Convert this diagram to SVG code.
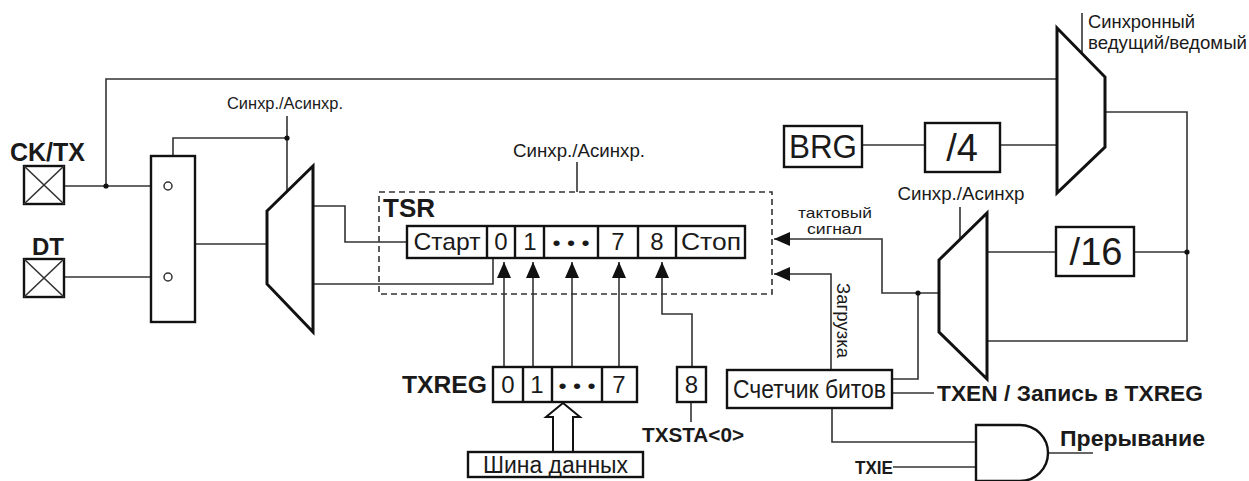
<svg xmlns="http://www.w3.org/2000/svg" width="1249" height="481" viewBox="0 0 1249 481">
<style>
.w{fill:none;stroke:#333;stroke-width:1.6}
.b{fill:#fff;stroke:#111;stroke-width:2.4}
.m{fill:#fff;stroke:#111;stroke-width:3}
.d{fill:#111}
.t{font-family:"Liberation Sans",Arial,sans-serif;fill:#1a1a1a}
.bo{font-weight:bold}
.dash{fill:none;stroke:#333;stroke-width:1.6;stroke-dasharray:6 4}
</style>
<defs>
<marker id="ah" viewBox="0 0 16 14" refX="16" refY="7" markerWidth="16" markerHeight="14" markerUnits="userSpaceOnUse" orient="auto">
<path d="M0,0 L16,7 L0,14 Z" fill="#111"/>
</marker>
</defs>
<rect width="1249" height="481" fill="#fff"/>

<g id="connectors">
<polyline class="w" points="64,186 164,186"/>
<polyline class="w" points="64,277 164,277"/>
<polyline class="w" points="106,186 106,79 1057,79"/>
<polyline class="w" points="158,222 180,244 267,244"/>
<polyline class="w" points="173,156 173,138 287,138"/>
<polyline class="w" points="287,116 287,191"/>
<polyline class="w" points="313,206 345,206 345,242 407,242"/>
<polyline class="w" points="313,284 493,284 493,258"/>
<polyline class="w" points="577,162 577,192"/>
<polyline class="w" points="504,367 504,262" marker-end="url(#ah)"/>
<polyline class="w" points="533,367 533,262" marker-end="url(#ah)"/>
<polyline class="w" points="572,367 572,262" marker-end="url(#ah)"/>
<polyline class="w" points="619,367 619,262" marker-end="url(#ah)"/>
<polyline class="w" points="692,367 692,314 662,314 662,262" marker-end="url(#ah)"/>
<polyline class="w" points="691,402 691,422"/>
<polyline class="w" points="862,145 925,145"/>
<polyline class="w" points="1000,145 1057,145"/>
<polyline class="w" points="1082,13 1082,53"/>
<polyline class="w" points="1105,112 1187,112 1187,341 987,341"/>
<polyline class="w" points="1187,252 1134,252"/>
<polyline class="w" points="1056,252 987,252"/>
<polyline class="w" points="960,207 960,239"/>
<polyline class="w" points="939,293 882,293 882,239 774,239" marker-end="url(#ah)"/>
<polyline class="w" points="918,293 918,379 892,379"/>
<polyline class="w" points="831,370 831,274 774,274" marker-end="url(#ah)"/>
<polyline class="w" points="892,393 934,393"/>
<polyline class="w" points="832,408 832,442 976,442"/>
<polyline class="w" points="893,467 976,467"/>
<polyline class="w" points="1048,453 1093,453"/>
<circle class="d" cx="106" cy="186" r="2.6"/>
<circle class="d" cx="287" cy="138" r="2.6"/>
<circle class="d" cx="918" cy="293" r="2.6"/>
<circle class="d" cx="1187" cy="252" r="2.6"/>
</g>

<g id="ck-tx">
<text class="t bo" x="10" y="161" font-size="25">CK/TX</text>
<rect class="b" x="24" y="166" width="40" height="38"/>
<path class="w" d="M24,166 L64,204 M64,166 L24,204" stroke-width="1.2"/>
</g>
<g id="dt">
<text class="t bo" x="32" y="255" font-size="24">DT</text>
<rect class="b" x="24" y="259" width="40" height="38"/>
<path class="w" d="M24,259 L64,297 M64,259 L24,297" stroke-width="1.2"/>
</g>

<g id="switch">
<rect class="b" x="151" y="156" width="44" height="166"/>
<circle cx="168" cy="186" r="4" fill="#fff" stroke="#333" stroke-width="1.5"/>
<circle cx="168" cy="277" r="4" fill="#fff" stroke="#333" stroke-width="1.5"/>
</g>

<g id="mux-left">
<polygon class="m" points="267,211 313,166 313,332 267,284"/>
<text class="t" x="285" y="109" font-size="17" text-anchor="middle" textLength="116" lengthAdjust="spacingAndGlyphs">Синхр./Асинхр.</text>
</g>

<g id="tsr">
<rect class="dash" x="379" y="192" width="393" height="102"/>
<text class="t" x="579" y="157" font-size="19" text-anchor="middle" textLength="132" lengthAdjust="spacingAndGlyphs">Синхр./Асинхр.</text>
<text class="t bo" x="383" y="217" font-size="26">TSR</text>
<rect class="b" x="407" y="226" width="338" height="32"/>
<path class="b" d="M487,226 V258 M515,226 V258 M544,226 V258 M598,226 V258 M638,226 V258 M676,226 V258"/>
<text class="t" x="447" y="250" font-size="24" text-anchor="middle" textLength="67" lengthAdjust="spacingAndGlyphs">Старт</text>
<text class="t" x="501" y="250" font-size="24" text-anchor="middle">0</text>
<text class="t" x="530" y="250" font-size="24" text-anchor="middle">1</text>
<text class="t" x="571" y="250" font-size="20" text-anchor="middle" textLength="37" lengthAdjust="spacingAndGlyphs">• • •</text>
<text class="t" x="618" y="250" font-size="24" text-anchor="middle">7</text>
<text class="t" x="657" y="250" font-size="24" text-anchor="middle">8</text>
<text class="t" x="711" y="250" font-size="24" text-anchor="middle" textLength="60" lengthAdjust="spacingAndGlyphs">Стоп</text>
</g>

<g id="txreg">
<text class="t bo" x="487" y="393" font-size="24" text-anchor="end" textLength="85" lengthAdjust="spacingAndGlyphs">TXREG</text>
<rect class="b" x="493" y="367" width="144" height="35"/>
<path class="b" d="M523,367 V402 M552,367 V402 M602,367 V402"/>
<text class="t" x="508" y="393" font-size="24" text-anchor="middle">0</text>
<text class="t" x="537" y="393" font-size="24" text-anchor="middle">1</text>
<text class="t" x="577" y="393" font-size="20" text-anchor="middle" textLength="37" lengthAdjust="spacingAndGlyphs">• • •</text>
<text class="t" x="619" y="393" font-size="24" text-anchor="middle">7</text>
</g>

<g id="bit8">
<rect class="b" x="677" y="367" width="29" height="35"/>
<text class="t" x="691.5" y="393" font-size="24" text-anchor="middle">8</text>
<text class="t bo" x="642" y="442" font-size="20" textLength="102" lengthAdjust="spacingAndGlyphs">TXSTA&lt;0&gt;</text>
</g>

<g id="databus">
<polygon points="563,403 580,417 573,417 573,452 553,452 553,417 546,417" fill="#fff" stroke="#111" stroke-width="2"/>
<rect class="b" x="468" y="452" width="175" height="25"/>
<text class="t" x="555.5" y="473" font-size="23" text-anchor="middle" textLength="145" lengthAdjust="spacingAndGlyphs">Шина данных</text>
</g>

<g id="brg">
<rect class="b" x="784" y="126" width="78" height="41"/>
<text class="t" x="823" y="158" font-size="34" text-anchor="middle" textLength="68" lengthAdjust="spacingAndGlyphs">BRG</text>
</g>
<g id="div4">
<rect class="b" x="925" y="123" width="75" height="49"/>
<text class="t" x="962" y="161" font-size="38" text-anchor="middle">/4</text>
</g>

<g id="mux-top">
<polygon class="m" points="1057,28 1105,77 1105,147 1057,193"/>
<text class="t" x="1088" y="28" font-size="19" textLength="107" lengthAdjust="spacingAndGlyphs">Синхронный</text>
<text class="t" x="1088" y="49" font-size="19" textLength="159" lengthAdjust="spacingAndGlyphs">ведущий/ведомый</text>
</g>

<g id="div16">
<rect class="b" x="1056" y="227" width="78" height="49"/>
<text class="t" x="1096" y="265" font-size="38" text-anchor="middle">/16</text>
</g>

<g id="mux-low">
<polygon class="m" points="939,260 987,213 987,379 939,332"/>
<text class="t" x="961" y="200" font-size="19" text-anchor="middle" textLength="127" lengthAdjust="spacingAndGlyphs">Синхр./Асинхр</text>
</g>

<g id="clock-label">
<text class="t" x="835" y="218" font-size="15" text-anchor="middle" textLength="74" lengthAdjust="spacingAndGlyphs">тактовый</text>
<text class="t" x="834.5" y="234" font-size="15" text-anchor="middle" textLength="55" lengthAdjust="spacingAndGlyphs">сигнал</text>
<text class="t" transform="translate(837,283) rotate(90)" font-size="18" textLength="75" lengthAdjust="spacingAndGlyphs">Загрузка</text>
</g>

<g id="bitcounter">
<rect class="b" x="727" y="370" width="165" height="38"/>
<text class="t" x="809.5" y="398" font-size="25" text-anchor="middle" textLength="153" lengthAdjust="spacingAndGlyphs">Счетчик битов</text>
<text class="t bo" x="937" y="401" font-size="22" textLength="266" lengthAdjust="spacingAndGlyphs">TXEN / Запись в TXREG</text>
</g>

<g id="and-gate">
<path class="b" d="M976,425 H1020 A28,28 0 0 1 1020,481 H976 Z"/>
<text class="t bo" x="893" y="474" font-size="19" text-anchor="end" textLength="38" lengthAdjust="spacingAndGlyphs">TXIE</text>
<text class="t bo" x="1060" y="446" font-size="22" textLength="145" lengthAdjust="spacingAndGlyphs">Прерывание</text>
</g>
</svg>
